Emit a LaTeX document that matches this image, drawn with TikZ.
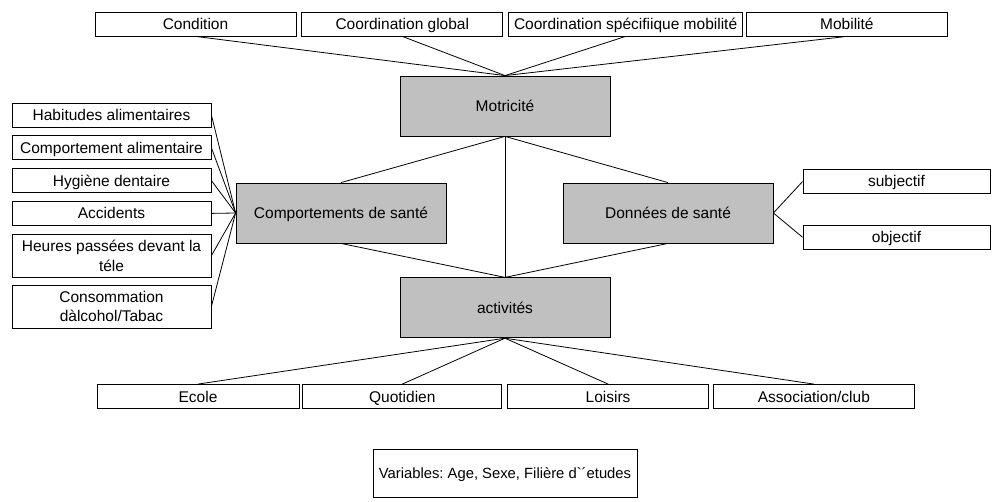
\documentclass[tikz,border=0pt]{standalone}
\usepackage{fontspec}
\setmainfont{Liberation Sans}[Ligatures=TeXOff]
\usetikzlibrary{positioning}
\definecolor{boxgray}{RGB}{192,192,192}

\begin{document}
\frenchspacing
\begin{tikzpicture}[
        x=1pt, y=1pt,
        every node/.style={align=center, font=\fontsize{15.5}{19.5}\selectfont},
        hub/.style={rectangle, draw, fill=boxgray, line width=0.8pt, minimum width=210pt, minimum height=60pt, text height=12pt, text depth=1pt},
        topbox/.style={rectangle, draw, line width=0.8pt, minimum width=201pt, minimum height=24pt, inner sep=2pt, text height=12pt, text depth=1pt},
        sidebox/.style={rectangle, draw, line width=0.8pt, minimum width=199pt, minimum height=24pt, inner sep=2pt, text height=12pt, text depth=1pt},
        tallbox/.style={rectangle, draw, line width=0.8pt, minimum width=199pt, minimum height=43pt, inner sep=2pt},
        link/.style={line width=0.8pt}
    ]
    \useasboundingbox (0,0) rectangle (992,-502);

    % Central nodes
    \node[hub] (motor) at (505,-106) {Motricité};
    \node[hub, below=141pt of motor] (activ) {activités};
    \node[hub] (behav) at (341,-213) {Comportements de santé};
    \node[hub] (health) at (668,-213) {Données de santé};

    % Top row (Motricité)
    \node[topbox] (cond) at (195.5,-24) {Condition};
    \node[topbox, right=5pt of cond] (coordg) {Coordination global};
    \node[topbox, minimum width=234pt, right=5pt of coordg] (coords) {Coordination spécifiique mobilité};
    \node[topbox, right=3pt of coords] (mobil) {Mobilité};

    % Left side (Comportements de santé)
    \node[sidebox] (habit) at (111.5,-115) {Habitudes alimentaires};
    \node[sidebox, below=8pt of habit] (eating) {Comportement alimentaire};
    \node[sidebox, below=8pt of eating] (dental) {Hygiène dentaire};
    \node[sidebox, below=8pt of dental] (accid) {Accidents};
    \node[tallbox, below=8pt of accid] (screen) {Heures passées devant la\\téle};
    \node[tallbox, below=7pt of screen] (drugs) {Consommation\\dàlcohol/Tabac};

    % Right side (Données de santé)
    \node[sidebox, minimum width=187pt] (subj) at (896.5,-181.5) {subjectif};
    \node[sidebox, minimum width=187pt, below=31pt of subj] (obj) {objectif};

    % Bottom row (activités)
    \node[sidebox, minimum width=202pt] (school) at (198,-396.5) {Ecole};
    \node[sidebox, right=3pt of school] (daily) {Quotidien};
    \node[sidebox, minimum width=201pt, right=5pt of daily] (leisure) {Loisirs};
    \node[sidebox, minimum width=201pt, right=4pt of leisure] (club) {Association/club};

    % Variables
    \node[rectangle, draw, line width=0.8pt, minimum width=264pt, minimum height=48pt, font=\fontsize{14.8}{18}\selectfont, text height=12pt, text depth=1pt] (vars) at (505,-473) {Variables: Age, Sexe, Filière d`´etudes};

    % Links
    \draw[link] (cond.south) -- (motor.north);
    \draw[link] (coordg.south) -- (motor.north);
    \draw[link] (coords.south) -- (motor.north);
    \draw[link] (mobil.south) -- (motor.north);

    \draw[link] (motor.south) -- (behav.north);
    \draw[link] (motor.south) -- (health.north);
    \draw[link] (motor.south) -- (activ.north);
    \draw[link] (behav.south) -- (activ.north);
    \draw[link] (health.south) -- (activ.north);

    \draw[link] (habit.east) -- (behav.west);
    \draw[link] (eating.east) -- (behav.west);
    \draw[link] (dental.east) -- (behav.west);
    \draw[link] (accid.east) -- (behav.west);
    \draw[link] (screen.east) -- (behav.west);
    \draw[link] (drugs.east) -- (behav.west);

    \draw[link] (health.east) -- (subj.west);
    \draw[link] (health.east) -- (obj.west);

    \draw[link] (activ.south) -- (school.north);
    \draw[link] (activ.south) -- (daily.north);
    \draw[link] (activ.south) -- (leisure.north);
    \draw[link] (activ.south) -- (club.north);

    \end{tikzpicture}
\end{document}
